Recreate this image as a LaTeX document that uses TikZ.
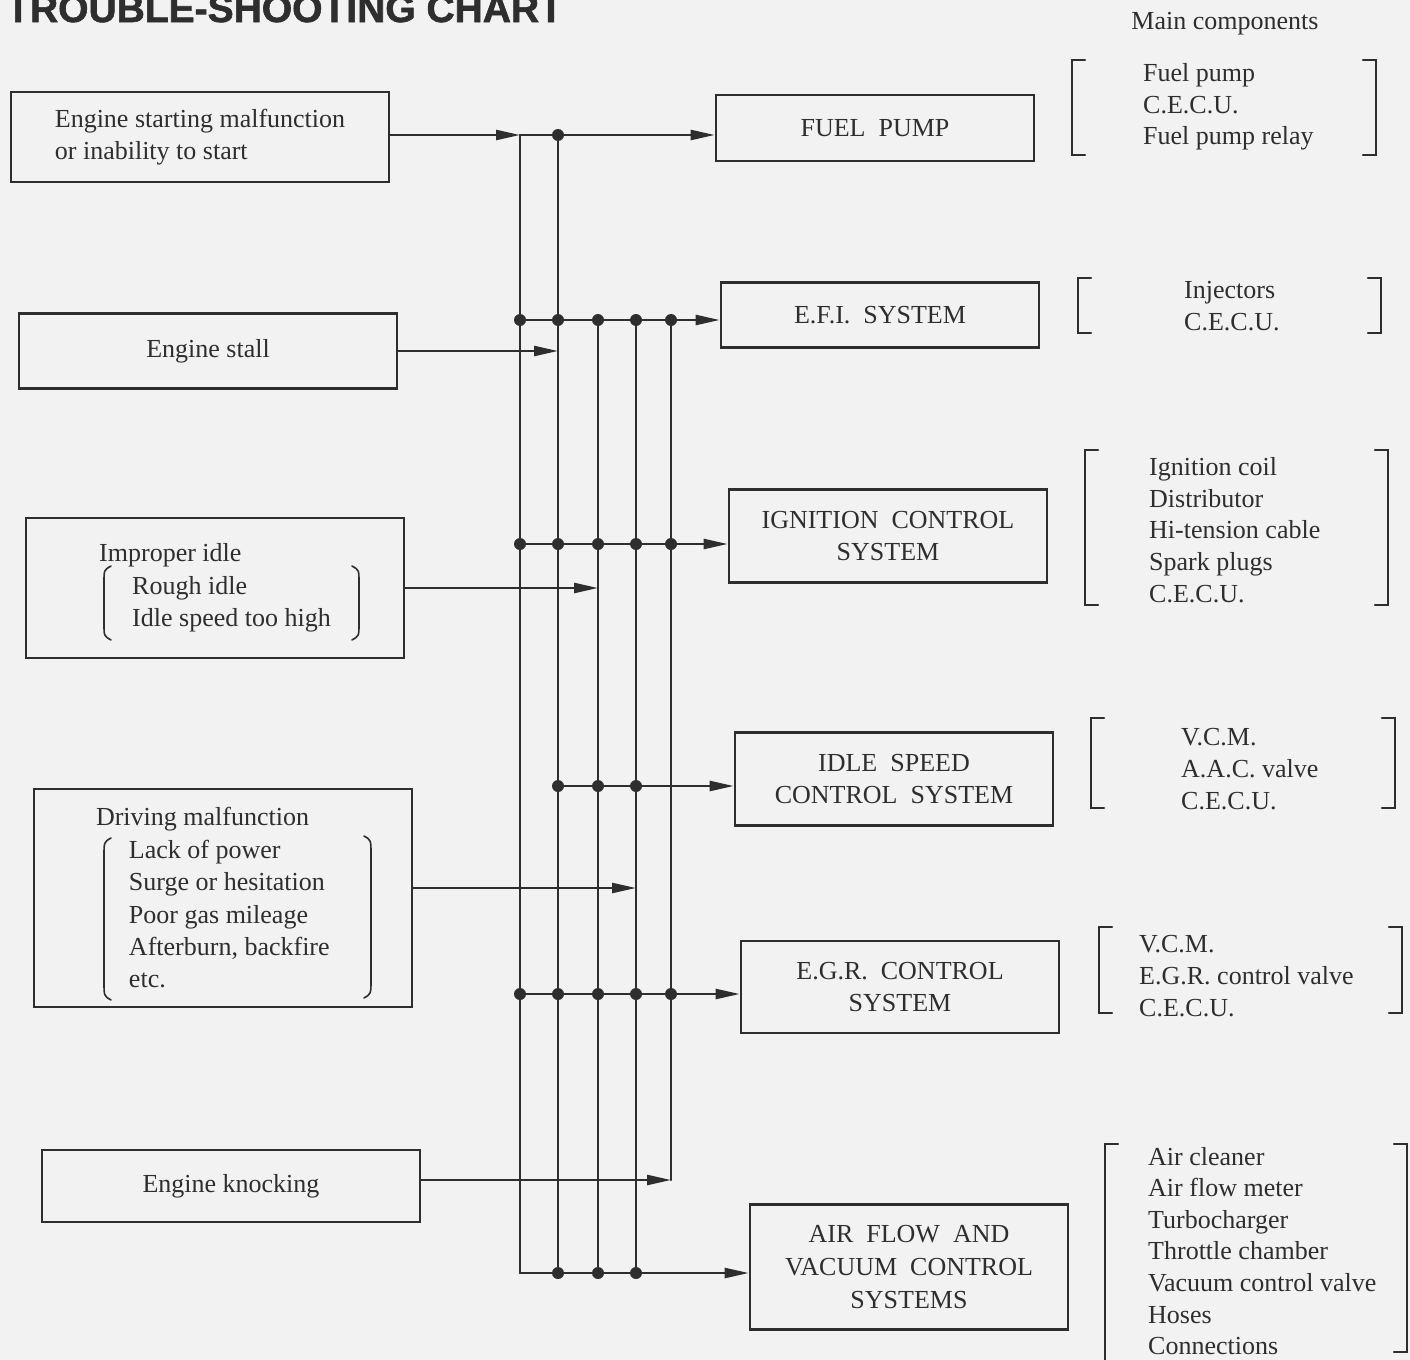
\documentclass[tikz,border=0pt]{standalone}
\usepackage{fontspec}
\setmainfont{Liberation Serif}
\newfontfamily\titlefont[BoldFeatures={FakeBold=1.5}]{Liberation Sans}
\usetikzlibrary{arrows.meta,positioning}

\definecolor{paper}{gray}{0.95}
\definecolor{ink}{gray}{0.18}

\begin{document}
\begin{tikzpicture}[
  x=0.5pt, y=-0.5pt,
  box/.style={draw=ink, text=ink, line width=1.3pt, minimum width=189pt, align=left, inner sep=0pt, font=\fontsize{13}{16.2}\selectfont},
  sys/.style={draw=ink, text=ink, line width=1.3pt, minimum width=159pt, align=center, inner sep=0pt, font=\fontsize{13}{16.3}\selectfont},
  parts/.style={anchor=west, text=ink, align=left, inner sep=0pt, font=\fontsize{13}{15.8}\selectfont},
  paren/.style={line width=0.8pt},
  >={Triangle[length=12pt,width=5pt]}, line width=1.2pt, line cap=round, draw=ink
]
\useasboundingbox (0,0) rectangle (1410,1360);
\fill[paper] (0,0) rectangle (1410,1360);

\node[anchor=base west, inner sep=0pt, text=ink, font={\titlefont\bfseries\fontsize{19.5}{20}\selectfont}] (title) at (5,22) {TROUBLE-SHOOTING CHART};

% symptoms
\node[box, minimum height=45pt] (start) at (200,137) {Engine starting malfunction\\or inability to start};
\node[box, minimum height=37.5pt, align=center] (stall) at (208,351) {Engine stall};
\node[box, minimum height=70pt] (idle) at (215,588) {Improper idle\\\hspace*{16.5pt}Rough idle\\\hspace*{16.5pt}Idle speed too high};
\node[box, minimum height=109pt, inner xsep=31pt, text width=127pt, align=flush left] (drive) at (223,898) {Driving malfunction\\\hspace*{16.5pt}Lack of power\\\hspace*{16.5pt}Surge or hesitation\\\hspace*{16.5pt}Poor gas mileage\\\hspace*{16.5pt}Afterburn, backfire\\\hspace*{16.5pt}etc.};
\node[box, minimum height=36pt, align=center] (knock) at (231,1186) {Engine knocking};

\draw[paren] (111,566) .. controls (104,570) .. (104,582) -- (104,624) .. controls (104,636) .. (111,640);
\draw[paren] (352,566) .. controls (359,570) .. (359,582) -- (359,624) .. controls (359,636) .. (352,640);
\draw[paren] (111,838) .. controls (104,842) .. (104,856) -- (104,982) .. controls (104,996) .. (111,1000);
\draw[paren] (364,836) .. controls (371,840) .. (371,854) -- (371,980) .. controls (371,994) .. (364,998);

% systems
\node[sys, minimum height=33pt] (fuel) at (875,128) {FUEL~ PUMP};
\node[sys, minimum height=32.5pt] (efi) at (880,315) {E.F.I.~ SYSTEM};
\node[sys, minimum height=46.5pt] (ign) at (888,536) {IGNITION~ CONTROL\\SYSTEM};
\node[sys, minimum height=46.5pt] (isc) at (894,779) {IDLE~ SPEED\\CONTROL~ SYSTEM};
\node[sys, minimum height=46pt] (egr) at (900,987) {E.G.R.~ CONTROL\\SYSTEM};
\node[sys, minimum height=62.5pt] (air) at (909,1267) {AIR~ FLOW~ AND\\VACUUM~ CONTROL\\SYSTEMS};

% junction points: row x line
\foreach \r/\y in {fp/135,efi/320,ign/544,isc/786,egr/994,air/1273}
  \foreach \i/\x in {1/520,2/558,3/598,4/636,5/671}
    \coordinate (\r\i) at (\x,\y);

% symptom lines
\draw[->] (fp1 -| start.east) -- (fp1);
\draw[->] (stall.east) -- (stall.east -| fp2);
\draw[->] (idle.east) -- (idle.east -| fp3);
\draw[->] ([yshift=5pt]drive.east) -- ([yshift=5pt]drive.east -| fp4);
\draw[->] ([yshift=3pt]knock.east) -- ([yshift=3pt]knock.east -| fp5);

\draw (fp1) -- (air1);
\draw (fp2) -- (air2);
\draw (efi3) -- (air3);
\draw (efi4) -- (air4);
\draw (efi5) -- ([yshift=3pt]knock.east -| efi5);

% to the systems
\draw[->] (fp1) -- (fp1 -| fuel.west);
\draw[->] (efi1) -- (efi1 -| efi.west);
\draw[->] (ign1) -- (ign1 -| ign.west);
\draw[->] (isc2) -- (isc2 -| isc.west);
\draw[->] (egr1) -- (egr1 -| egr.west);
\draw[->] (air1) -- (air1 -| air.west);

\foreach \p in {fp2,efi1,efi2,efi3,efi4,efi5,ign1,ign2,ign3,ign4,ign5,isc2,isc3,isc4,egr1,egr2,egr3,egr4,egr5,air2,air3,air4}
  \fill[ink] (\p) circle (3pt);

% main components
\node[text=ink, inner sep=0pt, font=\fontsize{13}{15.8}\selectfont] (mc) at (1225,24) {Main components};

\node[parts] (fpparts) at (1142,107) {Fuel pump\\C.E.C.U.\\Fuel pump relay};
\draw (1085,60) -- (1072,60) -- (1072,155) -- (1085,155);
\draw (1363,60) -- (1376,60) -- (1376,155) -- (1363,155);

\node[parts] (efiparts) at (1183,306) {Injectors\\C.E.C.U.};
\draw (1091,278) -- (1078,278) -- (1078,333) -- (1091,333);
\draw (1368,278) -- (1381,278) -- (1381,333) -- (1368,333);

\node[parts] (ignparts) at (1148,530) {Ignition coil\\Distributor\\Hi-tension cable\\Spark plugs\\C.E.C.U.};
\draw (1098,450) -- (1085,450) -- (1085,605) -- (1098,605);
\draw (1375,450) -- (1388,450) -- (1388,605) -- (1375,605);

\node[parts] (iscparts) at (1180,769) {V.C.M.\\A.A.C. valve\\C.E.C.U.};
\draw (1104,718) -- (1091,718) -- (1091,808) -- (1104,808);
\draw (1382,718) -- (1395,718) -- (1395,808) -- (1382,808);

\node[parts] (egrparts) at (1138,976) {V.C.M.\\E.G.R. control valve\\C.E.C.U.};
\draw (1112,927) -- (1099,927) -- (1099,1013) -- (1112,1013);
\draw (1389,927) -- (1402,927) -- (1402,1013) -- (1389,1013);

\node[parts] (airparts) at (1147,1251) {Air cleaner\\Air flow meter\\Turbocharger\\Throttle chamber\\Vacuum control valve\\Hoses\\Connections};
\draw (1118,1144) -- (1105,1144) -- (1105,1375);
\draw (1394,1144) -- (1407,1144) -- (1407,1352) -- (1394,1352);
\end{tikzpicture}
\end{document}
